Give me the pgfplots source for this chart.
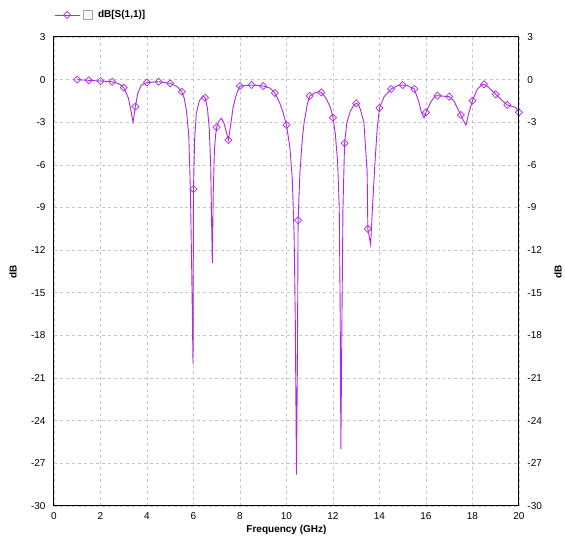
\documentclass[border=0pt]{standalone}
\usepackage{pgfplots}
\pgfplotsset{compat=1.18}
\usepackage{fontspec}
\setmainfont{Liberation Sans}
\definecolor{trace}{RGB}{175,40,230}

\begin{document}
\begin{tikzpicture}[font=\fontsize{10bp}{12bp}\selectfont]
\pgfplotsset{
  base/.style={
    width=465bp, height=469bp, scale only axis,
    xmin=0, xmax=20, ymin=-30, ymax=3,
    xtick={0,2,...,20}, ytick={-30,-27,...,3},
    major tick length=0pt,
    tick label style={font=\fontsize{10bp}{12bp}\selectfont},
    /pgf/number format/assume math mode=true,
    axis line style={black, line width=1bp},
  }
}
\begin{axis}[base, name=main,
    grid=major, grid style={dashed, gray!45, line width=0.6bp},
    xticklabel style={yshift=-3.5bp},
    yticklabel style={xshift=-5bp},
    xlabel={\bfseries Frequency (GHz)},
    xlabel style={at={(axis description cs:0.5,-0.051)}, anchor=center},
    ylabel={\bfseries dB},
    ylabel style={at={(axis description cs:-0.088,0.5)}, anchor=center},
    legend style={at={(axis description cs:0,1)}, anchor=west, yshift=22bp,
      draw=none, fill=none, inner sep=0pt, font=\bfseries\fontsize{10bp}{12bp}\selectfont},
    legend image code/.code={
      \draw[trace, line width=0.9bp] (0bp,0bp) -- (25bp,0bp);
      \draw[trace, line width=0.7bp] plot[mark=square, mark size=2.5bp,
        mark options={rotate=45, fill=white}] coordinates {(12.5bp,0bp)};
      \draw[gray!70, fill=gray!6, line width=0.6bp] (29bp,-4.5bp) rectangle (38bp,4.5bp);
      \path (41bp,0bp);
    },
  ]
% trace (dB[S(1,1)])
\addplot[trace, line width=0.9bp] coordinates {
 (1.0,0.0) (1.5,-0.05) (2.0,-0.1) (2.5,-0.15) (2.8,-0.3) (3.0,-0.56)
 (3.2,-1.3) (3.3,-2.1) (3.4,-3.0) (3.5,-1.9) (3.6,-1.0) (3.75,-0.4)
 (4.0,-0.2) (4.5,-0.15) (5.0,-0.26) (5.3,-0.5) (5.5,-0.85) (5.6,-1.3)
 (5.7,-2.2) (5.8,-4.0) (5.87,-8) (5.93,-14) (5.98,-20.0) (6.0,-7.7)
 (6.05,-4.2) (6.12,-2.4) (6.25,-1.5) (6.4,-1.15) (6.5,-1.27) (6.6,-2.0)
 (6.68,-3.5) (6.74,-6) (6.78,-10) (6.81,-12.9) (6.85,-8) (6.9,-5)
 (6.95,-3.9) (7.0,-3.35) (7.1,-2.9) (7.2,-2.72) (7.3,-3.0) (7.4,-3.6)
 (7.5,-4.25) (7.6,-3.2) (7.7,-2.0) (7.8,-1.3) (7.9,-0.8) (8.0,-0.45)
 (8.5,-0.38) (9.0,-0.45) (9.3,-0.6) (9.5,-0.94) (9.7,-1.6) (9.85,-2.3)
 (10.0,-3.2) (10.15,-4.8) (10.25,-7) (10.33,-11) (10.38,-17) (10.43,-27.8)
 (10.47,-20) (10.5,-9.9) (10.58,-6.5) (10.68,-4.2) (10.76,-3.0) (10.9,-1.7)
 (11.0,-1.15) (11.2,-0.95) (11.4,-0.85) (11.5,-0.9) (11.7,-1.3) (11.9,-2.0)
 (12.0,-2.68) (12.1,-3.8) (12.2,-5.8) (12.27,-9) (12.31,-16) (12.34,-26)
 (12.38,-18) (12.43,-9) (12.5,-4.48) (12.6,-3.0) (12.75,-2.2) (12.9,-1.8)
 (13.0,-1.67) (13.1,-1.75) (13.2,-2.2) (13.33,-3.0) (13.47,-6.5) (13.5,-10.5)
 (13.62,-11.6) (13.7,-9) (13.8,-6) (13.9,-3.5) (14.0,-2.0) (14.2,-1.2)
 (14.5,-0.66) (14.8,-0.4) (15.0,-0.38) (15.2,-0.42) (15.5,-0.66) (15.7,-1.6)
 (15.8,-2.3) (15.92,-2.7) (16.0,-2.3) (16.2,-1.6) (16.4,-1.15) (16.5,-1.13)
 (17.0,-1.2) (17.2,-1.5) (17.5,-2.49) (17.62,-2.9) (17.72,-3.2) (17.85,-2.3)
 (18.0,-1.48) (18.2,-0.7) (18.4,-0.35) (18.5,-0.33) (18.7,-0.55) (19.0,-1.03)
 (19.3,-1.5) (19.5,-1.78) (19.7,-1.88) (19.85,-1.95) (20.0,-2.3)
};
\addlegendentry{dB[S(1,1)]}
% markers every 0.5 GHz
\addplot[trace, only marks, line width=0.7bp, mark=square, mark size=2.5bp,
  mark options={rotate=45, fill=white}, forget plot] coordinates {
 (1.0,0) (1.5,-0.05) (2.0,-0.1) (2.5,-0.15) (3.0,-0.56) (3.5,-1.9)
 (4.0,-0.2) (4.5,-0.15) (5.0,-0.26) (5.5,-0.85) (6.0,-7.7) (6.5,-1.27)
 (7.0,-3.35) (7.5,-4.25) (8.0,-0.45) (8.5,-0.38) (9.0,-0.45) (9.5,-0.94)
 (10.0,-3.2) (10.5,-9.9) (11.0,-1.15) (11.5,-0.9) (12.0,-2.68) (12.5,-4.48)
 (13.0,-1.67) (13.5,-10.5) (14.0,-2.0) (14.5,-0.66) (15.0,-0.38) (15.5,-0.66)
 (16.0,-2.3) (16.5,-1.13) (17.0,-1.2) (17.5,-2.49) (18.0,-1.48) (18.5,-0.33)
 (19.0,-1.03) (19.5,-1.78) (20.0,-2.3)
};
\end{axis}
% right-hand dB axis
\begin{axis}[base,
    axis x line=none, axis y line*=right,
    yticklabel style={xshift=5bp},
    ylabel={\bfseries dB},
    ylabel style={at={(axis description cs:1.084,0.5)}, anchor=center},
  ]
\end{axis}
\path (main.south west) ++(-54bp,-34bp);
\path (main.north east) ++(46bp,37bp);
\end{tikzpicture}
\end{document}
